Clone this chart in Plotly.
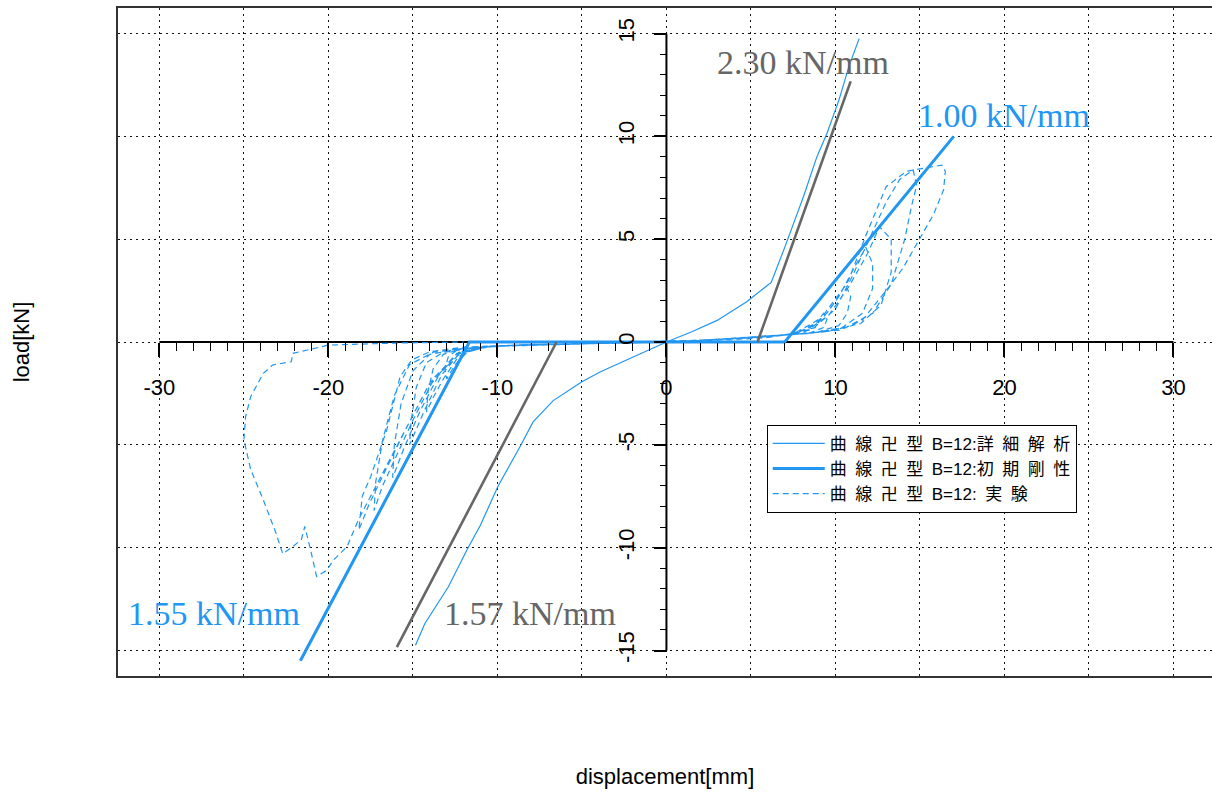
import plotly.graph_objects as go

BLUE = "#2196F3"
GRAY = "#666666"
FONT = "Liberation Sans, Arial, Noto Sans CJK JP"
SERIF = "Liberation Serif, Times New Roman, serif"

# plotted window (data units)
X_RANGE = [-32.45, 32.28]
Y_RANGE = [-16.24, 16.24]

# drawn axes through the origin
X_AXIS_SPAN = [-30, 30]
Y_AXIS_SPAN = [-15, 15]
x_major = [-30, -25, -20, -15, -10, -5, 0, 5, 10, 15, 20, 25, 30]
x_labels = ["-30", "", "-20", "", "-10", "", "0", "", "10", "", "20", "", "30"]
y_major = [-15, -10, -5, 0, 5, 10, 15]
y_labels = ["-15", "-10", "-5", "0", "5", "10", "15"]
x_minor = list(range(-30, 31))
y_minor = list(range(-15, 16))

# 詳細解析: detailed analysis curve
ana_x = [-14.85, -14.3, -12.9, -11.8, -11.0, -9.96, -8.6, -7.9, -6.7, -5.0, -3.9,
         -2.0, 0.0, 1.5, 3.0, 4.75, 6.2, 7.0, 8.1, 8.9, 9.5, 10.2, 10.8, 11.4]
ana_y = [-14.75, -13.7, -11.9, -10.1, -8.9, -7.0, -5.0, -3.9, -2.85, -1.93, -1.45,
         -0.75, 0.0, 0.5, 1.05, 1.96, 2.9, 4.6, 7.05, 9.0, 10.15, 11.75, 13.4, 14.75]

# 実験: measured hysteresis loops (one cycle per row)
exp_x = [
    0, 2.0, 4.0, 6.0, 7.5, 8.4, 9.0, 9.3, 9.5, 9.3, 8.5, 6.5, 4.0, 1.0, -2.0, -5.0, -8.0, -10.5, -11.8, -12.5, -13.0, -13.1, -12.9, -12.3, -10.0, -7.0, -4.0, -1.0,
    2, 5, 7.2, 8.5, 9.5, 10.1, 10.6, 10.9, 10.7, 10.2, 8.8, 6, 3, 0, -3, -6, -9, -11.2, -12.3, -13.2, -13.8, -14.2, -14.1, -13.8, -13.2, -12, -9, -5, -1,
    3, 6, 7.8, 9.2, 10.2, 11.1, 11.8, 12.2, 12.2, 11.6, 10.4, 8.5, 5, 1, -3, -7, -10.5, -12.2, -13.3, -14.3, -15.2, -15.1, -14.8, -14.2, -13.2, -11, -7, -3, 0,
    3, 6.5, 8.2, 9.6, 10.8, 11.9, 12.6, 13.3, 13.3, 12.7, 11.5, 9.5, 6, 2, -2, -6, -10, -12, -13.4, -14.6, -15.5, -16.2, -16.1, -15.7, -15.0, -14, -12, -8, -4, 0,
    3, 7, 8.6, 10.0, 11.0, 12.0, 13.0, 13.8, 14.6, 14.8, 14.5, 14.1, 13.3, 12.2, 10.6, 8.5, 5, 1, -3, -7, -10.5, -12.3, -13.7, -15.0, -16.0, -16.8, -17.3, -17.2, -16.8, -16.1, -15.2, -13.8, -11.5, -7, -3, 0,
    3, 7, 8.8, 9.5, 10.7, 11.85, 13.0, 14.2, 15.2, 16.3, 16.5, 16.4, 15.8, 15.0, 14.0, 13.0, 11.6, 10.3, 8, 5, 1, -3, -7, -10.5, -12.4, -14.0, -15.4, -16.6, -17.6, -18.2, -18.0, -17.5, -16.55, -15.76, -15.07, -14.0, -12, -8, -4, 0,
    -3, -7, -10.5, -12.4, -14.2, -15.8, -17.2, -18.2, -18.9, -19.7, -20.1, -20.7, -21.1, -21.4, -21.6, -22.1, -22.7, -23.1, -23.85, -24.6, -25.0, -24.9, -24.6, -23.85, -23.3, -22.2, -22.1, -20.0, -16.0, -12.0,
]
exp_y = [
    0, 0.05, 0.12, 0.22, 0.4, 0.8, 1.1, 1.4, 1.1, 0.7, 0.45, 0.3, 0.15, 0.05, -0.02, -0.08, -0.12, -0.2, -0.5, -1.1, -1.8, -1.3, -0.7, -0.35, -0.2, -0.12, -0.05, 0.0,
    0.08, 0.2, 0.35, 0.7, 1.4, 2.1, 2.8, 2.2, 1.4, 0.8, 0.45, 0.3, 0.12, 0.0, -0.05, -0.1, -0.15, -0.25, -0.7, -1.8, -2.7, -3.4, -2.4, -1.3, -0.6, -0.3, -0.15, -0.08, 0.0,
    0.12, 0.25, 0.45, 1.1, 2.2, 3.6, 4.6, 3.8, 2.6, 1.4, 0.7, 0.42, 0.22, 0.03, -0.06, -0.12, -0.22, -0.5, -1.6, -3.3, -5.0, -3.8, -2.2, -1.0, -0.5, -0.25, -0.12, -0.05, 0.0,
    0.12, 0.3, 0.5, 1.3, 2.7, 4.3, 5.6, 5.0, 3.4, 1.8, 0.9, 0.5, 0.3, 0.08, -0.03, -0.1, -0.2, -0.4, -1.5, -3.4, -5.1, -6.6, -5.0, -3.0, -1.4, -0.6, -0.3, -0.13, -0.06, 0.0,
    0.12, 0.33, 0.6, 1.6, 3.2, 5.0, 6.8, 7.9, 8.36, 7.6, 6.6, 5.0, 2.8, 1.4, 0.7, 0.42, 0.22, 0.04, -0.05, -0.12, -0.22, -0.5, -1.7, -3.8, -5.6, -7.0, -8.2, -6.8, -4.8, -2.6, -1.1, -0.5, -0.25, -0.12, -0.04, 0.0,
    0.12, 0.33, 0.7, 1.56, 2.85, 5.28, 7.55, 8.3, 8.45, 8.6, 8.3, 7.4, 6.2, 5.05, 3.6, 2.5, 1.07, 0.58, 0.4, 0.22, 0.04, -0.05, -0.12, -0.22, -0.55, -2.0, -4.2, -6.2, -7.9, -9.14, -7.5, -6.55, -4.28, -1.69, -0.87, -0.47, -0.25, -0.12, -0.05, 0.0,
    -0.05, -0.12, -0.22, -0.6, -2.3, -4.8, -7.0, -8.6, -9.95, -10.6, -11.1, -11.4, -9.95, -8.97, -9.6, -9.95, -10.3, -9.3, -7.68, -6.2, -4.76, -3.63, -2.66, -1.52, -1.12, -0.96, -0.55, -0.15, -0.05, 0.0,
]

# stiffness values (kN/mm) and the x-intercepts / end points of their lines
k_init_pos, k_init_neg = 1.00, 1.55
k_ana_pos, k_ana_neg = 2.30, 1.57
init_pos_x = [7.0, 17.0]
init_neg_x = [-11.66, -21.66]
ana_pos_x = [5.39, 10.9]
ana_neg_x = [-6.5, -15.95]


def stiffness_line(xs, k):
    return [k * (x - xs[0]) for x in xs]


# 初期剛性: initial stiffness polyline (negative branch, slip along zero, positive branch)
init_x = [init_neg_x[1], init_neg_x[0], init_pos_x[0], init_pos_x[1]]
init_y = [stiffness_line(init_neg_x, k_init_neg)[1], 0.0, 0.0,
          stiffness_line(init_pos_x, k_init_pos)[1]]

SP = "\u2002"
legend_names = [
    SP.join(["曲", "線", "卍", "型", "B=12:詳", "細", "解", "析"]),
    SP.join(["曲", "線", "卍", "型", "B=12:初", "期", "剛", "性"]),
    SP.join(["曲", "線", "卍", "型", "B=12:", "実", "験"]),
]

fig = go.Figure()

fig.add_trace(go.Scatter(x=exp_x, y=exp_y, mode="lines", name=legend_names[2], legendrank=3,
                         line=dict(color=BLUE, width=1.2, dash="6px,4px")))
fig.add_trace(go.Scatter(x=ana_x, y=ana_y, mode="lines", name=legend_names[0], legendrank=1,
                         line=dict(color=BLUE, width=1.2)))
fig.add_trace(go.Scatter(x=init_x, y=init_y, mode="lines", name=legend_names[1], legendrank=2,
                         line=dict(color=BLUE, width=3)))
fig.add_trace(go.Scatter(x=ana_pos_x, y=stiffness_line(ana_pos_x, k_ana_pos), mode="lines",
                         showlegend=False, line=dict(color=GRAY, width=2.6)))
fig.add_trace(go.Scatter(x=ana_neg_x, y=stiffness_line(ana_neg_x, k_ana_neg), mode="lines",
                         showlegend=False, line=dict(color=GRAY, width=2.6)))
# carrier trace for the crossing axes
fig.add_trace(go.Scatter(x=[None], y=[None], xaxis="x2", yaxis="y2", showlegend=False,
                         hoverinfo="skip"))

# stiffness labels
labels = [
    (f"{k_ana_pos:.2f} kN/mm", 8.08, 13.6, GRAY),
    (f"{k_init_pos:.2f} kN/mm", 19.98, 11.0, BLUE),
    (f"{k_init_neg:.2f} kN/mm", -26.77, -13.2, BLUE),
    (f"{k_ana_neg:.2f} kN/mm", -8.07, -13.2, GRAY),
]
for text, lx, ly, col in labels:
    fig.add_annotation(x=lx, y=ly, text=text, showarrow=False,
                       font=dict(family=SERIF, size=34, color=col))

# axis lines through the origin
fig.add_shape(type="line", x0=X_AXIS_SPAN[0], x1=X_AXIS_SPAN[1], y0=0, y1=0,
              line=dict(color="black", width=2), layer="between")
fig.add_shape(type="line", x0=0, x1=0, y0=Y_AXIS_SPAN[0], y1=Y_AXIS_SPAN[1],
              line=dict(color="black", width=2), layer="between")

y_zero_pos = (0 - Y_RANGE[0]) / (Y_RANGE[1] - Y_RANGE[0])
x_zero_pos = (0 - X_RANGE[0]) / (X_RANGE[1] - X_RANGE[0])

grid = dict(showgrid=True, gridcolor="#111111", gridwidth=1.4, griddash="2px,4px",
            tickmode="linear", tick0=0, dtick=5, zeroline=False, ticks="",
            showticklabels=False, automargin=False)

fig.update_layout(
    template="none",
    width=1212, height=796,
    margin=dict(l=118, r=0, t=8, b=120),
    paper_bgcolor="white", plot_bgcolor="white",
    font=dict(family=FONT, color="black"),
    xaxis=dict(range=X_RANGE, showline=True, mirror=True, linecolor="#333333", linewidth=2,
               title=dict(text="displacement[mm]", font=dict(size=22), standoff=92), **grid),
    yaxis=dict(range=Y_RANGE, showline=True, mirror=False, linecolor="#333333", linewidth=2,
               title=dict(text="load[kN]", font=dict(size=22), standoff=80), **grid),
    xaxis2=dict(range=X_RANGE, overlaying="x", anchor="free", position=y_zero_pos, side="bottom",
                showline=False, showgrid=False, zeroline=False, automargin=False,
                tickmode="array", tickvals=x_major, ticktext=x_labels,
                ticks="outside", ticklen=14, tickwidth=1.6, tickcolor="black",
                ticklabelstandoff=12, tickfont=dict(size=22, family=FONT, color="black"),
                minor=dict(tickmode="array", tickvals=x_minor, ticks="outside", ticklen=8,
                           tickwidth=1.4, tickcolor="black", showgrid=False)),
    yaxis2=dict(range=Y_RANGE, overlaying="y", anchor="free", position=x_zero_pos, side="left",
                showline=False, showgrid=False, zeroline=False, automargin=False,
                tickmode="array", tickvals=y_major, ticktext=y_labels, tickangle=-90,
                ticks="outside", ticklen=12, tickwidth=1.6, tickcolor="black",
                ticklabelstandoff=12, tickfont=dict(size=22, family=FONT, color="black"),
                minor=dict(tickmode="array", tickvals=y_minor, ticks="outside", ticklen=6,
                           tickwidth=1.4, tickcolor="black", showgrid=False)),
    legend=dict(x=0.593, y=0.376, xanchor="left", yanchor="top", bgcolor="white",
                bordercolor="black", borderwidth=1, itemwidth=52, tracegroupgap=0,
                entrywidth=300, entrywidthmode="pixels",
                font=dict(family="Liberation Sans, Noto Sans CJK JP", size=17, color="black")),
    showlegend=True,
)

fig.write_html("out.html")
